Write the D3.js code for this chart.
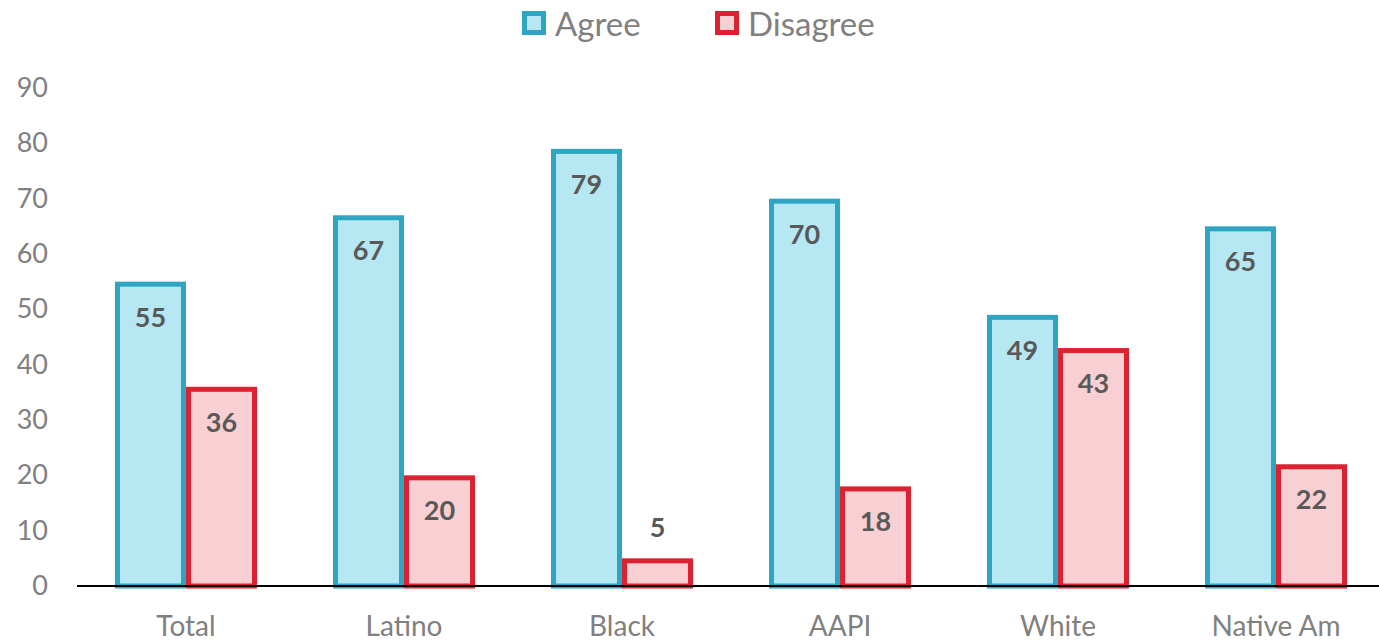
<!DOCTYPE html>
<html><head><meta charset="utf-8">
<script src="https://cdn.jsdelivr.net/npm/d3@7"></script>
<style>body{margin:0;background:#fff;} svg{display:block;font-family:Lato,"Open Sans",sans-serif;}</style>
</head><body><svg id="c" width="1379" height="641"></svg>
<script>
const categories = ["Total","Latino","Black","AAPI","White","Native Am"];
const seriesNames = ["Agree","Disagree"];
const agree = [55,67,79,70,49,65];
const disagree = [36,20,5,18,43,22];
const yTicks = [0,10,20,30,40,50,60,70,80,90];
const fills = ["#b5e8f2","#f8d0d3"];
const strokes = ["#2ea6c3","#dc2130"];

const svg = d3.select("#c");
const margin = {left:77, right:-6};
const W = 1379;
const x = d3.scaleBand().domain(categories).range([margin.left, W - margin.right]).paddingInner(0).paddingOuter(0);
const y = d3.scaleLinear().domain([0,90]).range([586, 88]);
const inner = d3.scaleBand().domain(seriesNames).range([0,142]);
const series = [agree, disagree];

// y axis labels
const yAxis = d3.axisLeft(y).tickValues(yTicks).tickSize(0).tickPadding(0);
const gy = svg.append("g").attr("transform","translate(48,0)").call(yAxis);
gy.select(".domain").remove();
gy.selectAll("text").attr("font-size",27).attr("fill","#808080").attr("font-family","Lato,'Open Sans',sans-serif");

// bars
series.forEach((vals, si) => {
  categories.forEach((c, i) => {
    const cx = x(c) + x.bandwidth()/2 - 71;
    const bx = cx + inner(seriesNames[si]);
    const v = vals[i];
    svg.append("rect")
      .attr("x", bx + 2.5).attr("y", y(v) + 2.5)
      .attr("width", inner.bandwidth() - 5).attr("height", y(0) - y(v) - 2.5)
      .attr("fill", fills[si]).attr("stroke", strokes[si]).attr("stroke-width", 5);
    const small = (y(0) - y(v)) < 50;
    svg.append("text")
      .attr("x", bx + inner.bandwidth()/2)
      .attr("y", small ? y(v) - 21 : y(v) + 45)
      .attr("text-anchor","middle").attr("font-size",27).attr("font-weight","bold")
      .attr("fill","#595959").text(v);
  });
});

// x axis
const xAxis = d3.axisBottom(x).tickSize(0).tickPadding(0);
const gx = svg.append("g").attr("transform","translate(0,586)").call(xAxis);
gx.select(".domain").attr("stroke","#000").attr("stroke-width",2).attr("d",`M${margin.left},0H${W}`);
gx.selectAll("text").attr("font-size",28).attr("fill","#808080").attr("dy",0).attr("y",50)
  .attr("font-family","Lato,'Open Sans',sans-serif");

// legend
const legX = [522, 715];
seriesNames.forEach((n, i) => {
  svg.append("rect").attr("x", legX[i] + 2.5).attr("y", 13.5).attr("width", 19).attr("height", 19)
    .attr("fill", fills[i]).attr("stroke", strokes[i]).attr("stroke-width", 5);
  svg.append("text").attr("x", legX[i] + 33).attr("y", 36).attr("font-size", 33)
    .attr("fill","#808080").text(n);
});
</script></body></html>
